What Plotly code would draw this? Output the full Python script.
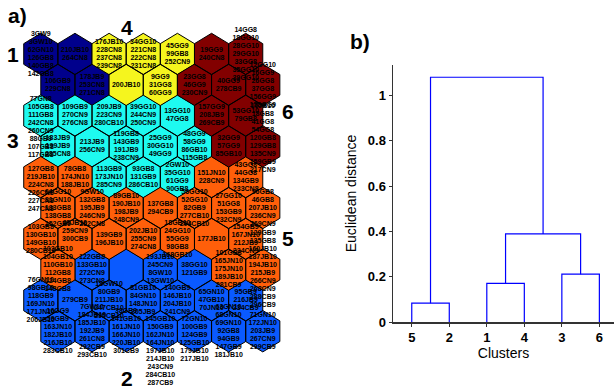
import plotly.graph_objects as go

# ---------------- SOM map data ----------------
cluster_grid = [
    [1, 1, 4, 4, 4, 6, 6],
    [1, 1, 4, 4, 6, 6, 6],
    [3, 3, 3, 3, 3, 6, 6],
    [3, 3, 3, 3, 3, 6, 6],
    [5, 5, 3, 3, 3, 5, 5],
    [5, 5, 5, 5, 5, 5, 5],
    [5, 5, 5, 5, 5, 5, 5],
    [5, 2, 2, 2, 2, 5, 5],
    [2, 2, 2, 2, 2, 2, 2],
    [2, 2, 2, 2, 2, 2, 2],
]
cluster_colors = {1: "#00008C", 2: "#0A5AFF", 3: "#1EFAF0", 4: "#F5F51E", 5: "#FF5F0A", 6: "#820000"}

labels_r0 = [["3GW9", "3GW10", "62GN10", "126GB8", "140GB8", "142GB8"], ["210JB10", "264CN8"],
             ["176JB10", "228CN8", "237CN8", "239CN8"], ["34GG10", "221CN8", "222CN8", "231CN8"],
             ["45GG9", "99GB8", "252CN9"], ["19GG9", "240CN8"],
             ["14GG8", "18GG10", "28GG10", "29GG10", "33GG8", "35GG10", "39GG10"]]
labels_r1 = [["106GB9", "229CN8"], ["178JB9", "253CN8", "271CN8"], ["200JB10"], ["9GG9", "31GG8", "60GG9"],
             ["23GG8", "46GG9", "230CN9"], ["40GG9", "278CB9"],
             ["12GG10", "16GG9", "26GG8", "37GG8", "156GG9", "158GG9"]]
labels_r2 = [["77GN8", "105GB8", "111GB8", "242CN8", "260CN9", "88GB9", "107GB8", "117GB8"],
             ["109GB9", "270CN9", "276CN8"], ["209JB9", "223CN9", "280CB10"], ["39GG10", "244CN9", "250CN9"],
             ["13GG10", "47GG8"], ["157GG9", "208JB9", "269CB9"], ["53GG10", "79GB8"]]
labels_r3 = [["183JB9", "199JB9", "285CN8"], ["213JB9", "256CN9"], ["119GB8", "143GB9", "191JB9", "238CN9"],
             ["25GG9", "30GG10", "49GG9"], ["48GG9", "58GG9", "86GB10", "115GB8"], ["32GG9", "57GG9", "85GB10"],
             ["16JB10", "18GB8", "41GG8", "54GG8", "120GB8", "129GB8", "135CN9", "159GB9", "217CN9"]]
labels_r4 = [["127GB8", "219JB10", "224CN8", "226CN8", "227CN8", "247CN8"], ["78GB8", "174JN10", "188JB10"],
             ["113GB9", "173JN10", "285CN9"], ["93GB8", "131GB9", "286CB10"], ["2GW10", "35GG10", "61GG9", "90GB8"],
             ["151JN10", "228CN9"], ["43GG8", "44GG8", "134GB9", "233CN8"]]
labels_r5 = [["64GG10", "31GN10", "133GB8", "138GB8", "152GB9"], ["9GW10", "132GB8", "195JB9", "246CN9", "262CN8"],
             ["89GB10", "190JB10", "198JB9", "248CN9"], ["137GB8", "294CB9"],
             ["56GG10", "52GG10", "82GB9", "277CB10", "204CB10"], ["27GG10", "51GG8", "153GB9", "232CN9"],
             ["96GB8", "46GB8", "207JB10", "236CN9", "269CN9"]]
labels_r6 = [["103GB8", "130GB10", "149GB10", "280CB10"], ["95JB10", "259CN9", "300CB9"], ["139GB9", "196JB10"],
             ["202JB10", "255CN9", "274CN8"], ["18GB10", "24GG10", "55GG9", "98GB8", "168GB10"], ["177JB10"],
             ["154GB9", "167JN10", "212JB9", "234CN9"]]
labels_r7 = [["103GB10", "104GB10", "110GB10", "112GB8", "124GB8", "148GB8"], ["122GB8", "133GB10", "272CN9", "273CN8"],
             [], ["193JB10", "245CN9", "8GW10", "13GW10"], ["38GG10", "121GB9"],
             ["101GB8", "165JN10", "175JN10", "189JB10", "281CB9"],
             ["129GB9", "135GB8", "160JB10", "187JB10", "194JB10", "215JB9", "266CN9", "268CN9", "288CB9", "296CB9"]]
labels_r8 = [["76GN10", "98GB10", "118GB9", "169JN10", "171JN10", "206JB10"], ["279CB9"],
             ["18GW10", "80GB9", "211JB10", "247CB10", "295CB10"], ["81GB10", "84GN10", "148JN10", "205JB9"],
             ["140GB9", "146JB10", "204JB10", "241CN9"], ["65GN10", "47GB10", "70JN10"], ["95GB9", "216JB9", "234CB9"]]
labels_r9 = [["16GG9", "59GB9", "163JN10", "182JB10", "216JB10", "283CB10"],
             ["7GW10", "184JB10", "185JB10", "192JB9", "261CN8", "292CB9", "293CB10"],
             ["38GB9", "141GB10", "161JN10", "166JN10", "220JB10", "301CB9"],
             ["145GB10", "150GB9", "162JN10", "164JN10", "197JB10", "214JB10", "243CN9", "284CB10", "287CB9"],
             ["72GN10", "100GB9", "124GB9", "125GB10", "179JB10", "217JB10"],
             ["63GN10", "68GN10", "69GN10", "92GB8", "94GB9", "147GB9", "181JB10"],
             ["71GN10", "172JN10", "203JB9", "267CN9", "299CB9"]]
som_labels = [labels_r0, labels_r1, labels_r2, labels_r3, labels_r4,
              labels_r5, labels_r6, labels_r7, labels_r8, labels_r9]

cluster_names = ["1", "2", "3", "4", "5", "6"]

# ---------------- dendrogram data ----------------
leaf_order = ["5", "2", "1", "4", "3", "6"]
merge_left = ["5", "1", "3", "1+4", "5+2"]
merge_right = ["2", "4", "6", "3+6", "1+4+3+6"]
merge_height = [0.083, 0.171, 0.211, 0.389, 1.081]
yticks = [0, 0.2, 0.4, 0.6, 0.8, 1]

# ---------------- layout helpers ----------------
W, H = 614, 389
COLW, ROWH = 34.15, 30.8          # px per grid unit
X0, Y0 = 40.8, 54.0               # px of first hex centre
LEFT_W = 307
LINE = 8.0 / ROWH                 # label line spacing in grid units
label_shift = {(2, 0): 1.5, (4, 0): 1.5, (3, 6): -1.0, (6, 1): -1.0, (9, 3): 2.5, (9, 4): 1.0}
FONT = "Liberation Sans, Arial"

fig = go.Figure()

# hexagons
for cid in sorted(cluster_colors):
    xs, ys = [], []
    for r, row in enumerate(cluster_grid):
        for c, k in enumerate(row):
            if k != cid:
                continue
            cx = c + 0.5 * (r % 2)
            cy = r
            hy, sy = 20.7 / ROWH, 10.35 / ROWH
            px = [cx, cx + 0.5, cx + 0.5, cx, cx - 0.5, cx - 0.5, cx]
            py = [cy - hy, cy - sy, cy + sy, cy + hy, cy + sy, cy - sy, cy - hy]
            xs += px + [None]
            ys += py + [None]
    fig.add_trace(go.Scatter(x=xs, y=ys, mode="lines", fill="toself", fillcolor=cluster_colors[cid],
                             line=dict(color="black", width=1), hoverinfo="skip", xaxis="x", yaxis="y"))

# labels
tx, ty, tt = [], [], []
for r, row in enumerate(som_labels):
    for c, labs in enumerate(row):
        n = len(labs)
        cx = c + 0.5 * (r % 2)
        shift = label_shift.get((r, c), 0.0)
        for i, lab in enumerate(labs):
            tx.append(cx)
            ty.append(r + (i - (n - 1) / 2 + shift) * LINE)
            tt.append(lab)
fig.add_trace(go.Scatter(x=tx, y=ty, text=tt, mode="text", textposition="middle center",
                         textfont=dict(family=FONT, size=7, color="black", weight="bold"),
                         hoverinfo="skip", xaxis="x", yaxis="y"))

# dendrogram
pos = {name: i + 1 for i, name in enumerate(leaf_order)}
hgt = {name: 0.0 for name in leaf_order}
dx, dy = [], []
for a, b, h in zip(merge_left, merge_right, merge_height):
    xa, xb = pos[a], pos[b]
    dx += [xa, xa, xb, xb, None]
    dy += [hgt[a], h, h, hgt[b], None]
    name = a + "+" + b
    pos[name] = (xa + xb) / 2
    hgt[name] = h
fig.add_trace(go.Scatter(x=dx, y=dy, mode="lines", line=dict(color="#0000FF", width=1.2),
                         hoverinfo="skip", xaxis="x2", yaxis="y2"))


def paper(xp, yp):
    return xp / W, 1 - yp / H


annotations = []
num_pos = {"1": (12.5, 55), "4": (126.7, 27), "6": (288.3, 112), "3": (13.3, 140), "5": (288.3, 238.5),
           "2": (126.7, 378)}
for name in cluster_names:
    xp, yp = paper(*num_pos[name])
    annotations.append(dict(x=xp, y=yp, xref="paper", yref="paper", text=name, showarrow=False,
                            font=dict(family=FONT, size=21, color="black", weight="bold"),
                            xanchor="center", yanchor="middle"))
for txt, (xp, yp) in [("a)", (17.5, 16)), ("b)", (360, 42))]:
    px_, py_ = paper(xp, yp)
    annotations.append(dict(x=px_, y=py_, xref="paper", yref="paper", text=txt, showarrow=False,
                            font=dict(family=FONT, size=21, color="black", weight="bold"),
                            xanchor="center", yanchor="middle"))

fig.update_layout(
    width=W, height=H, margin=dict(l=0, r=0, t=0, b=0, pad=0, autoexpand=False),
    paper_bgcolor="white", plot_bgcolor="rgba(0,0,0,0)", showlegend=False,
    xaxis=dict(domain=[0, LEFT_W / W], range=[-X0 / COLW, (LEFT_W - X0) / COLW], visible=False, fixedrange=True),
    yaxis=dict(domain=[0, 1], range=[(H - Y0) / ROWH, -Y0 / ROWH], visible=False, fixedrange=True),
    xaxis2=dict(domain=[393 / W, 1], range=[0.5, 6.39], anchor="y2", tickvals=list(range(1, 7)),
                ticktext=leaf_order, showline=True, linecolor="#333333", linewidth=1.5, ticks="outside",
                ticklen=3, tickcolor="#333333", showgrid=False, zeroline=False, automargin=False,
                fixedrange=True,
                tickfont=dict(family=FONT, size=13, color="black", weight="bold"),
                title=dict(text="Clusters", font=dict(family=FONT, size=14, color="black"), standoff=4)),
    yaxis2=dict(domain=[(H - 322) / H, (H - 65) / H], range=[0, 1.135], anchor="x2", tickvals=yticks,
                ticktext=["0", "0.2", "0.4", "0.6", "0.8", "1"], showline=True, linecolor="#333333",
                linewidth=1.5, ticks="outside", ticklen=3, tickcolor="#333333", showgrid=False, zeroline=False,
                automargin=False, fixedrange=True,
                tickfont=dict(family=FONT, size=13, color="black", weight="bold"),
                title=dict(text="Euclidean distance", font=dict(family=FONT, size=14, color="black"), standoff=8)),
    annotations=annotations,
)

fig.write_html("out.html", config={"displayModeBar": False, "staticPlot": True},
               post_script="document.body.style.margin='0px';")
